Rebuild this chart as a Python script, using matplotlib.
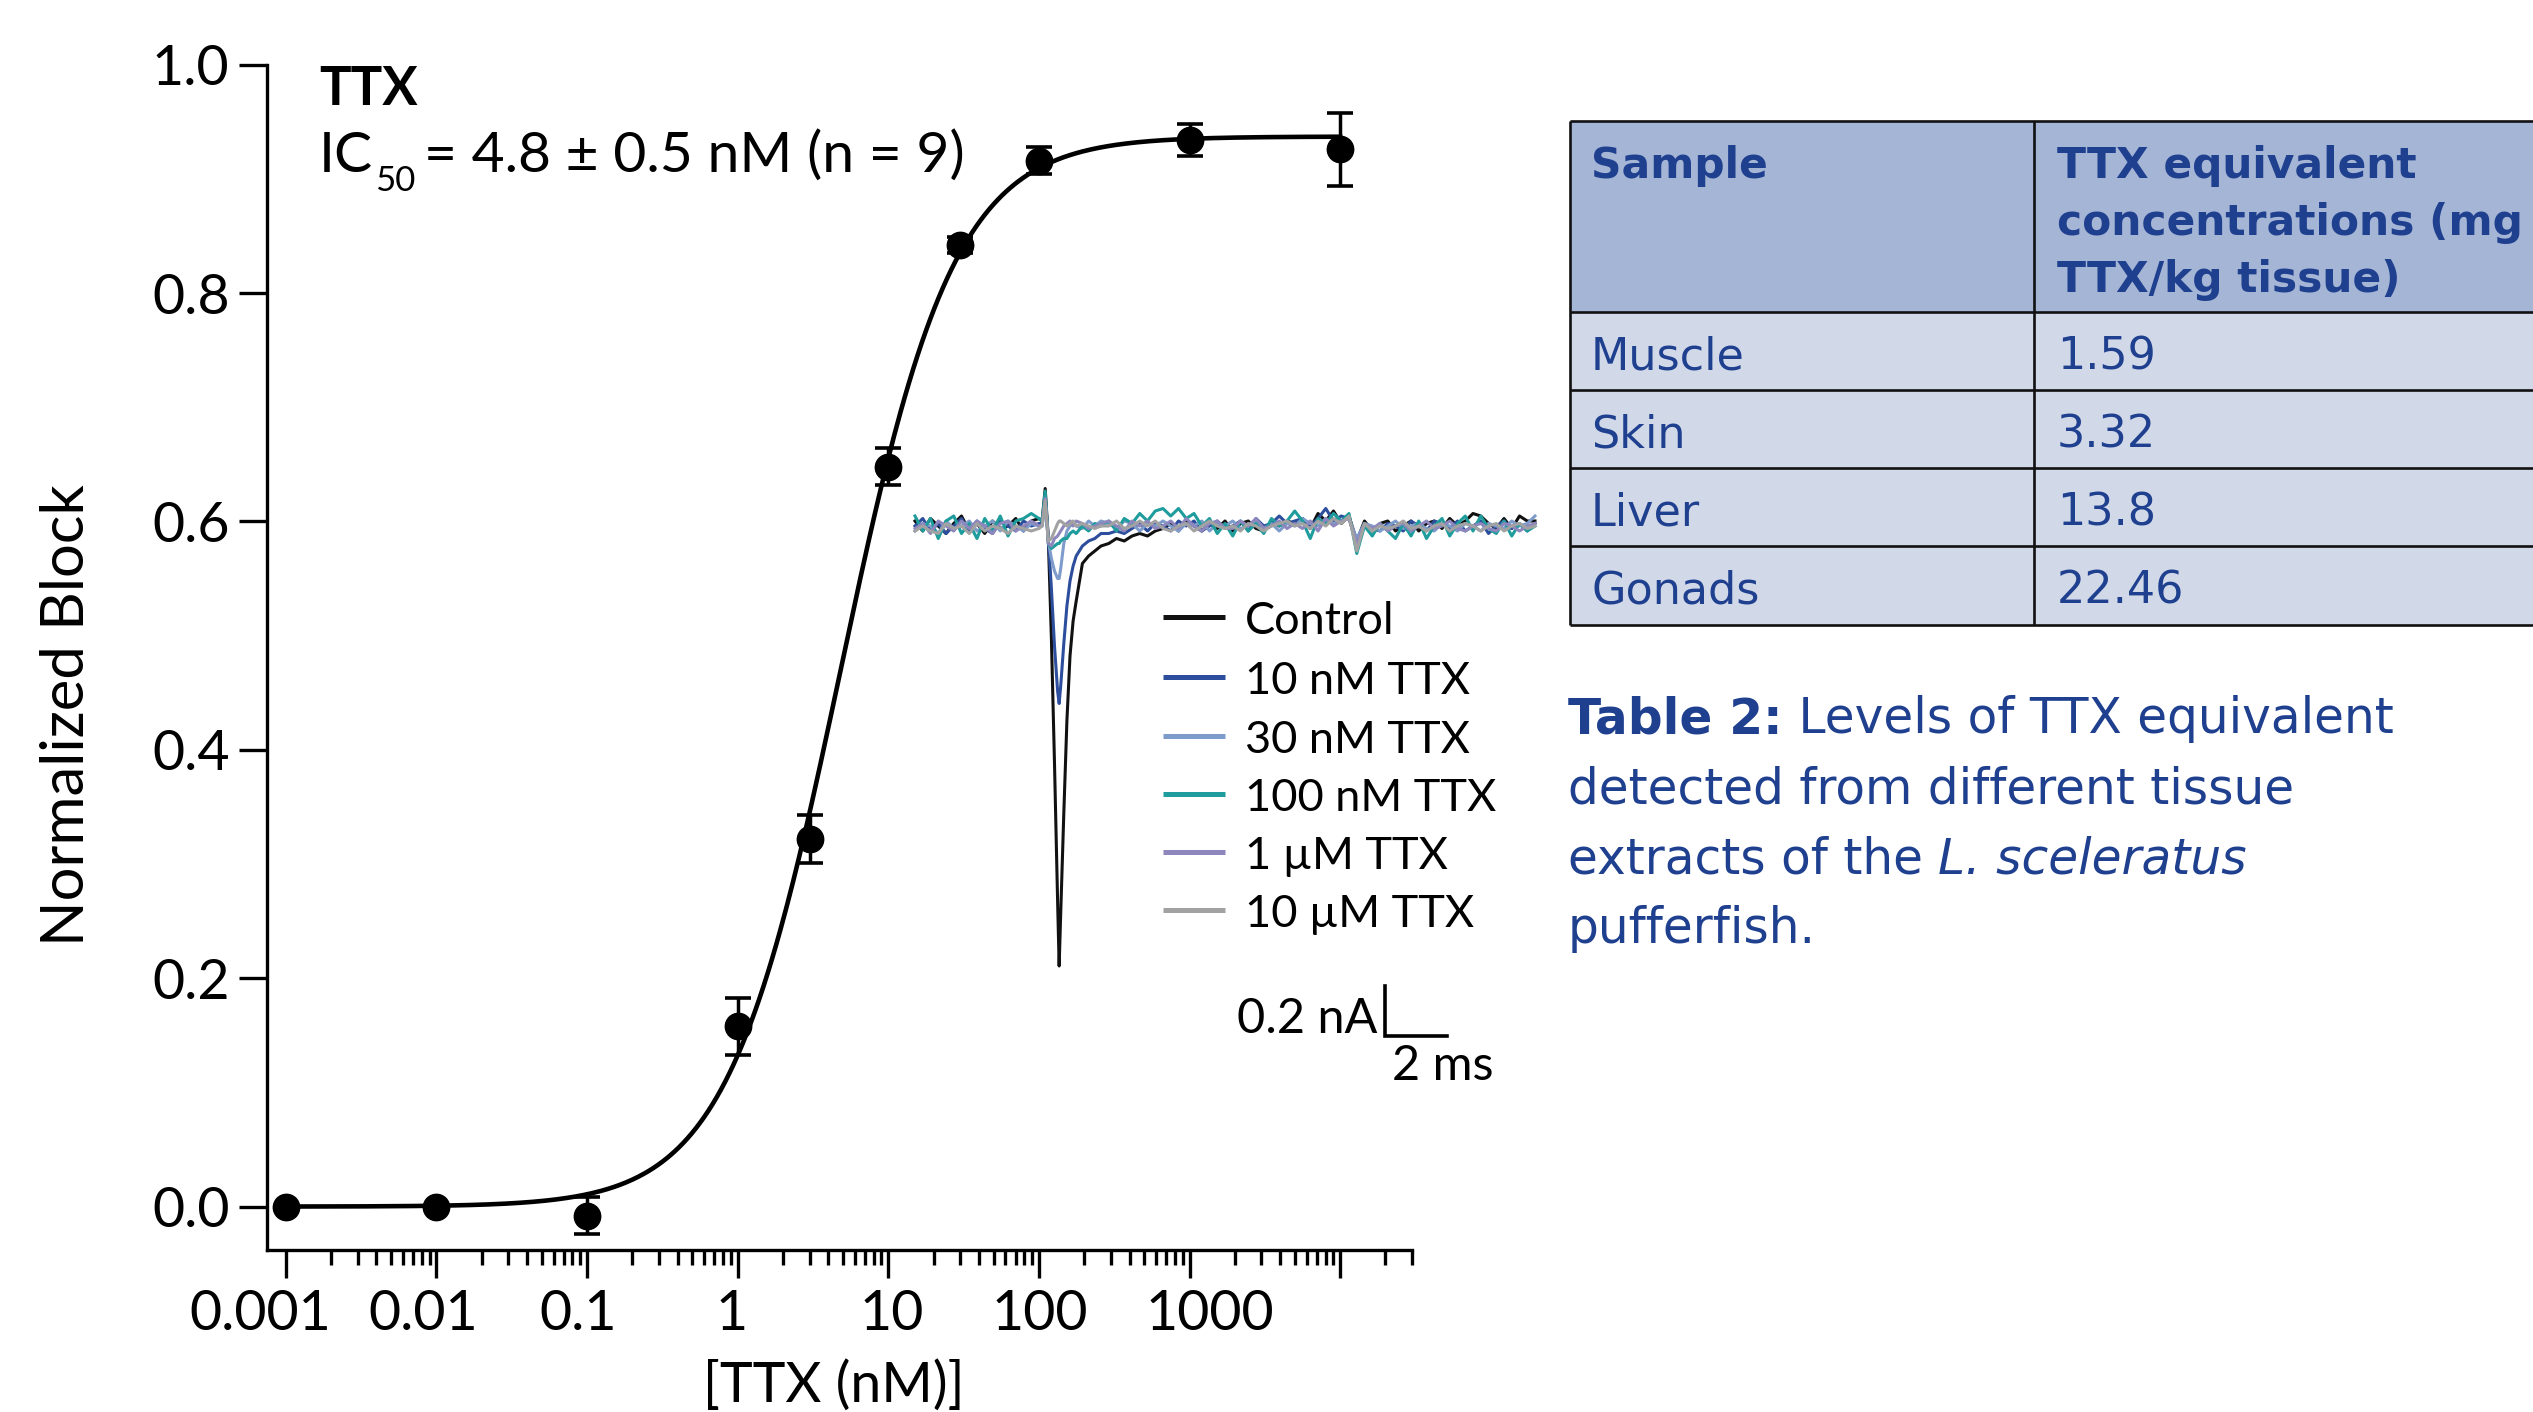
import numpy as np
import matplotlib
matplotlib.use("Agg")
import matplotlib.pyplot as plt
from matplotlib.ticker import FixedLocator, FixedFormatter, NullFormatter
from matplotlib.transforms import ScaledTranslation

# ---------------- data ----------------
conc_nM = [0.001, 0.01, 0.1, 1, 3, 10, 30, 100, 1000, 10000]
block_mean = [0.0, 0.0, -0.008, 0.158, 0.322, 0.648, 0.842, 0.916, 0.934, 0.926]
block_sem = [0.0, 0.0, 0.016, 0.025, 0.021, 0.016, 0.007, 0.012, 0.014, 0.032]
fit_ic50 = 4.8
fit_hill = 1.15
fit_top = 0.937

xtick_vals = [0.001, 0.01, 0.1, 1, 10, 100, 1000, 10000]
xtick_labels = ["0.001", "0.01", "0.1", "1", "10", "100", "1000", ""]
xminor_vals = [m * 10.0 ** e for e in range(-3, 5) for m in range(2, 10) if m * 10.0 ** e <= 3e4]
ytick_vals = [0.0, 0.2, 0.4, 0.6, 0.8, 1.0]
ytick_labels = ["0.0", "0.2", "0.4", "0.6", "0.8", "1.0"]

# inset current traces (nA) sampled at these times (ms)
time_seg1 = np.arange(0, 4.0001, 0.25)
time_seg2 = [4.1, 4.2, 4.3, 4.4, 4.5, 4.6, 4.65, 4.7, 4.8, 4.9, 5.0, 5.1, 5.2, 5.4, 5.6, 5.8, 6.0]
time_seg3 = np.arange(6.25, 20.0001, 0.25)
time_ms = np.concatenate([time_seg1, time_seg2, time_seg3])

i_control = [
    0.02, -0.02, 0.03, 0.00, -0.03, 0.01, 0.04, -0.02, 0.01, -0.03, 0.02, -0.01, 0.00, 0.03, -0.02, 0.02, 0.03,
    0.02, 0.15, -0.05, -0.45, -0.95, -1.50, -1.76, -1.55, -1.15, -0.78, -0.52, -0.38, -0.30, -0.15, -0.12, -0.10, -0.08,
    -0.07, -0.05, -0.06, -0.04, -0.03, -0.04, -0.02, -0.01,
    0.01, -0.02, 0.02, 0.00, -0.02, 0.01, -0.01, 0.02,
    -0.02, 0.01, 0.02, -0.01, -0.02, 0.02, 0.00, 0.02,
    0.01, 0.03, -0.01, 0.05, 0.02, 0.06, 0.01, 0.04,
    -0.06, 0.02, -0.02, 0.01, 0.02, -0.02, 0.00, 0.02,
    -0.02, 0.01, 0.02, -0.01, 0.03, 0.00, 0.02, 0.05,
    0.04, 0.01, -0.01, 0.03, -0.01, 0.04, 0.02, 0.02]
i_10nM = [
    0.00, 0.03, -0.02, 0.01, -0.03, 0.00, 0.03, -0.02, 0.02, -0.01, -0.03, 0.02, 0.00, -0.02, 0.02, 0.00, 0.01,
    0.01, 0.12, -0.05, -0.25, -0.48, -0.66, -0.71, -0.64, -0.47, -0.32, -0.22, -0.16, -0.12, -0.08, -0.06, -0.05, -0.03,
    -0.03, -0.02, -0.03, -0.01, 0.01, -0.02, 0.01, 0.00,
    -0.02, 0.02, 0.00, 0.02, -0.02, 0.00, 0.02, -0.01,
    0.00, 0.02, -0.02, 0.03, 0.00, 0.01, 0.04, 0.01,
    0.02, 0.03, 0.00, 0.03, 0.07, 0.02, 0.04, 0.03,
    -0.07, 0.01, -0.01, -0.02, 0.01, 0.00, -0.02, 0.02,
    0.00, -0.02, 0.02, 0.01, -0.01, 0.02, -0.02, 0.00,
    0.02, -0.03, 0.00, 0.02, -0.01, 0.01, -0.02, 0.01]
i_30nM = [
    -0.02, 0.01, 0.00, -0.03, 0.02, -0.01, 0.00, 0.02, -0.02, 0.00, 0.02, -0.02, 0.02, 0.00, -0.02, 0.01, 0.00,
    0.00, 0.10, -0.06, -0.13, -0.18, -0.21, -0.21, -0.17, -0.07, -0.02, 0.00, 0.01, 0.00, -0.01, 0.02, 0.00, 0.02,
    0.01, -0.01, 0.02, 0.01, -0.02, 0.01, 0.00, 0.02,
    0.00, -0.02, 0.01, 0.00, 0.02, -0.02, 0.01, 0.00,
    0.02, -0.01, 0.00, 0.02, -0.01, 0.01, -0.02, 0.01,
    0.00, 0.03, 0.01, 0.00, 0.03, 0.01, 0.02, 0.03,
    -0.05, 0.01, 0.00, -0.02, 0.00, 0.02, -0.01, 0.00,
    0.01, -0.01, -0.02, 0.01, 0.00, -0.02, 0.01, 0.00,
    -0.02, 0.01, 0.00, -0.01, 0.02, 0.00, 0.01, 0.04]
i_100nM = [
    0.04, -0.02, 0.03, -0.05, 0.02, 0.04, -0.03, 0.01, -0.05, 0.03, -0.02, 0.04, -0.04, 0.02, 0.03, 0.05, 0.03,
    0.02, 0.14, -0.07, -0.09, -0.08, -0.07, -0.07, -0.06, -0.05, -0.05, -0.03, -0.02, -0.03, 0.00, -0.02, 0.01, 0.00,
    0.02, -0.02, 0.03, 0.01, 0.05, 0.02, 0.06, 0.07,
    0.04, 0.07, 0.03, 0.05, 0.00, 0.03, -0.03, 0.01,
    -0.04, 0.02, -0.02, 0.01, -0.03, 0.03, 0.00, 0.02,
    0.06, 0.02, -0.05, 0.03, 0.01, 0.05, 0.02, 0.05,
    -0.11, 0.00, -0.04, 0.01, -0.02, -0.05, 0.01, -0.04,
    0.02, -0.05, 0.00, 0.03, -0.04, 0.01, 0.04, -0.02,
    0.04, -0.01, -0.03, 0.02, -0.04, 0.01, -0.02, 0.00]
i_1uM = [
    -0.01, 0.01, -0.03, 0.02, 0.00, -0.02, 0.02, -0.01, 0.02, 0.00, -0.03, 0.01, 0.02, -0.02, 0.00, 0.02, 0.00,
    0.00, 0.11, -0.07, -0.08, -0.05, -0.04, -0.03, -0.02, 0.00, 0.01, 0.02, 0.00, 0.02, 0.01, -0.01, 0.00, 0.01,
    0.02, 0.00, -0.02, 0.02, 0.00, 0.02, -0.01, 0.00,
    0.02, -0.01, 0.03, 0.00, -0.02, 0.01, 0.02, -0.01,
    -0.01, 0.02, 0.00, 0.03, -0.01, 0.00, 0.02, -0.01,
    0.01, -0.01, 0.02, -0.02, 0.03, 0.00, 0.02, 0.03,
    -0.07, 0.01, -0.01, 0.01, -0.02, 0.00, 0.01, -0.02,
    0.00, 0.02, -0.01, 0.00, 0.02, -0.01, -0.02, 0.00,
    0.01, -0.01, -0.02, 0.01, 0.00, -0.02, 0.00, 0.01]
i_10uM = [
    -0.02, 0.00, -0.02, -0.03, 0.01, -0.01, 0.00, -0.03, 0.01, -0.02, 0.00, -0.01, -0.03, 0.00, -0.01, -0.02, -0.01,
    0.00, 0.10, -0.06, -0.05, -0.02, 0.01, 0.02, 0.02, 0.01, 0.00, 0.01, 0.02, 0.00, 0.01, 0.00, -0.01, 0.00,
    0.00, 0.02, -0.01, 0.00, 0.02, 0.00, 0.02, -0.01,
    -0.02, 0.00, 0.01, -0.02, 0.00, 0.02, 0.00, -0.01,
    0.00, -0.02, 0.01, 0.00, -0.02, 0.00, 0.01, 0.02,
    0.00, 0.01, -0.01, 0.02, 0.00, 0.03, 0.01, 0.04,
    -0.10, 0.01, -0.02, 0.00, -0.01, 0.00, 0.02, -0.01,
    0.00, -0.02, 0.00, 0.01, -0.02, 0.00, 0.01, 0.00,
    -0.02, 0.00, 0.01, -0.02, 0.00, 0.01, -0.01, 0.00]

trace_labels = ["Control", "10 nM TTX", "30 nM TTX", "100 nM TTX", "1 \u00b5M TTX", "10 \u00b5M TTX"]
trace_values = [i_control, i_10nM, i_30nM, i_100nM, i_1uM, i_10uM]
trace_colors = ["#111111", "#2d4e9c", "#7e9ccb", "#1f9c9c", "#8e87bd", "#a2a2a2"]

scale_nA = 0.2
scale_ms = 2

table_header = ["Sample", ["TTX equivalent", "concentrations (mg", "TTX/kg tissue)"]]
table_samples = ["Muscle", "Skin", "Liver", "Gonads"]
table_values = ["1.59", "3.32", "13.8", "22.46"]

caption_lines = [["Table 2:", " Levels of TTX equivalent"],
                 ["detected from different tissue"],
                 ["extracts of the ", "L. sceleratus"],
                 ["pufferfish."]]

# ---------------- style ----------------
W, H, DPI = 2533, 1412, 100
FONT = "Lato"
WIDE = "DejaVu Sans"
plt.rcParams["font.family"] = [FONT, "DejaVu Sans"]
BLUE_TXT = "#1f3f8f"

fig = plt.figure(figsize=(W / DPI, H / DPI), dpi=DPI)


def fr(x0, y0, x1, y1):
    """pixel box (top-left origin) -> figure fraction rect"""
    return [x0 / W, 1 - y1 / H, (x1 - x0) / W, (y1 - y0) / H]


# ---------------- main dose-response axes ----------------
ax = fig.add_axes(fr(267, 64.6, 1412, 1250))
ax.set_xscale("log")
ax.set_xlim(7.5e-4, 3e4)
ax.set_ylim(-0.038, 1.0)
for s in ["top", "right"]:
    ax.spines[s].set_visible(False)
for s in ["left", "bottom"]:
    ax.spines[s].set_linewidth(2.4)

xfit = np.logspace(np.log10(conc_nM[0]), np.log10(conc_nM[-1]), 500)
yfit = fit_top / (1 + (fit_ic50 / xfit) ** fit_hill)
ax.plot(xfit, yfit, color="black", lw=3.3, zorder=2, clip_on=False)
ax.errorbar(conc_nM, block_mean, yerr=block_sem, fmt="o", ms=19, color="black",
            ecolor="black", elinewidth=2.5, capsize=9.4, capthick=2.6, zorder=3, clip_on=False)

ax.xaxis.set_major_locator(FixedLocator(xtick_vals))
ax.xaxis.set_major_formatter(FixedFormatter(xtick_labels))
ax.xaxis.set_minor_locator(FixedLocator(xminor_vals))
ax.xaxis.set_minor_formatter(NullFormatter())
ax.yaxis.set_major_locator(FixedLocator(ytick_vals))
ax.yaxis.set_major_formatter(FixedFormatter(ytick_labels))
ax.tick_params(axis="both", which="major", direction="out", length=20, width=2.4, labelsize=40)
ax.tick_params(axis="x", which="minor", direction="out", length=11, width=2.4)
ax.tick_params(axis="x", which="major", pad=8)
ax.tick_params(axis="y", which="major", pad=7)

# the reference's x tick labels sit slightly off their ticks
label_shift_px = [-26, -13, -9, -6, 3, 1, 20, 0]
for lab, dx in zip(ax.get_xticklabels(), label_shift_px):
    lab.set_transform(lab.get_transform() + ScaledTranslation(dx / DPI, 0, fig.dpi_scale_trans))

ax.set_xlabel("[TTX (nM)]", fontsize=40, va="top")
ax.xaxis.set_label_coords(0.495, -(1360 - 1250) / (1250 - 64.6))
ax.set_ylabel("Normalized Block", fontsize=43, va="center")
ax.yaxis.set_label_coords((67 - 267) / (1412 - 267), 1 - (715 - 64.6) / (1250 - 64.6))

# ---------------- inset traces ----------------
px_t0, px_base, px_per_ms, px_per_nA = 915, 526, 31.0, 250.0
ix0, ix1, iy0, iy1 = 890, 1570, 470, 1100
ax_in = fig.add_axes(fr(ix0, iy0, ix1, iy1))
ax_in.set_xlim((ix0 - px_t0) / px_per_ms, (ix1 - px_t0) / px_per_ms)
ax_in.set_ylim((px_base - iy1) / px_per_nA, (px_base - iy0) / px_per_nA)
ax_in.axis("off")
for vals, col in zip(trace_values, trace_colors):
    ax_in.plot(time_ms, vals, color=col, lw=2.2, clip_on=False, solid_joinstyle="round")

sb_t = (1385 - px_t0) / px_per_ms
sb_i = (px_base - 1036) / px_per_nA
ax_in.plot([sb_t, sb_t, sb_t + scale_ms], [sb_i + scale_nA, sb_i, sb_i], color="black",
           lw=2.6, solid_joinstyle="miter", clip_on=False)

# ---------------- overlay (pixel coordinates) ----------------
ov = fig.add_axes([0, 0, 1, 1])
ov.set_xlim(0, W)
ov.set_ylim(H, 0)
ov.axis("off")
r = fig.canvas.get_renderer()


def width(txt):
    return txt.get_window_extent(renderer=r).width


def advance(s, **kw):
    """horizontal advance of string s (incl. trailing spaces)"""
    a = ov.text(0, -500, s + "L", **kw)
    b = ov.text(0, -500, "L", **kw)
    w = width(a) - width(b)
    a.remove(); b.remove()
    return w


# titles
ov.text(319, 105, "TTX", fontsize=38, fontweight="bold", va="baseline", ha="left")
t_ic = ov.text(319, 172, "IC", fontsize=41, va="baseline", ha="left")
x_sub = 319 + width(t_ic) + 2
t_sub = ov.text(x_sub, 191, "50", fontsize=25, va="baseline", ha="left")
ov.text(x_sub + width(t_sub) + 8, 172, "= 4.8 \u00b1 0.5 nM (n = 9)", fontsize=41,
        va="baseline", ha="left")

# scale bar labels
ov.text(1377, 1033, f"{scale_nA} nA", fontsize=35, ha="right", va="baseline")
ov.text(1392, 1080, f"{scale_ms} ms", fontsize=35, ha="left", va="baseline")

# legend
leg_rows = [617, 677, 736, 794, 852, 910]
for yy, lab, col in zip(leg_rows, trace_labels, trace_colors):
    ov.plot([1163, 1225], [yy, yy], color=col, lw=3.6, solid_capstyle="butt")
    ov.text(1245, yy + 17, lab, fontsize=32.5, ha="left", va="baseline")

# table
tx0, tx_mid, tx1 = 1570, 2034, 2600
ty = [121, 312, 390, 468, 546, 625]
ov.add_patch(plt.Rectangle((tx0, ty[0]), tx1 - tx0, ty[1] - ty[0], facecolor="#a5b5d5",
                           edgecolor="none", zorder=1))
ov.add_patch(plt.Rectangle((tx0, ty[1]), tx1 - tx0, ty[-1] - ty[1], facecolor="#d1d9e9",
                           edgecolor="none", zorder=1))
for yy in ty:
    ov.plot([tx0, tx1], [yy, yy], color="#111111", lw=1.9, zorder=2, solid_capstyle="butt")
for xx in [tx0, tx_mid]:
    ov.plot([xx, xx], [ty[0], ty[-1]], color="#111111", lw=1.9, zorder=2, solid_capstyle="butt")

hdr_kw = dict(fontsize=30.5, fontweight="bold", color=BLUE_TXT, va="baseline", zorder=3, family=WIDE)
ov.text(1591, 178, table_header[0], **hdr_kw)
for k, line in enumerate(table_header[1]):
    ov.text(2057, 178 + 57 * k, line, **hdr_kw)
body_kw = dict(fontsize=32, color=BLUE_TXT, va="baseline", zorder=3, family=WIDE)
body_base = [370, 448, 526, 603]
for yy, s_, v_ in zip(body_base, table_samples, table_values):
    ov.text(1591, yy, s_, **body_kw)
    ov.text(2057, yy, v_, **body_kw)

# caption
cx = 1568
cap_base = [733, 803, 873, 943]
cap_kw = dict(fontsize=35, color=BLUE_TXT, va="baseline", family=WIDE)
styles = {
    (0, 0): dict(fontweight="bold"),
    (2, 1): dict(fontstyle="italic"),
}
for li, (parts, yb) in enumerate(zip(caption_lines, cap_base)):
    x = cx
    for pi, part in enumerate(parts):
        kw = dict(cap_kw, **styles.get((li, pi), {}))
        ov.text(x, yb, part, **kw)
        x += advance(part, **kw)

fig.savefig("out.png", dpi=DPI)
